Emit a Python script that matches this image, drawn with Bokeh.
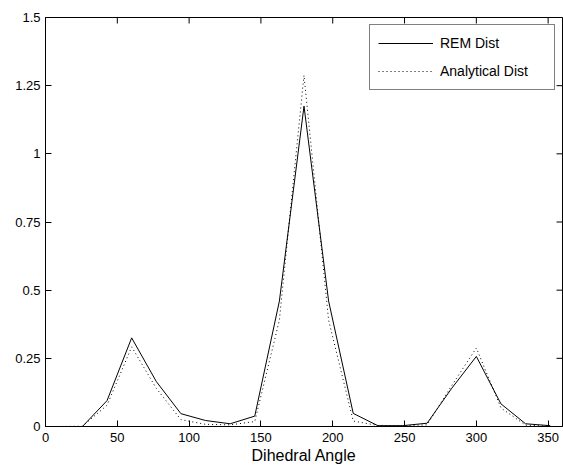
import math
from bokeh.plotting import figure
from bokeh.models import Range1d, FixedTicker, Legend, LegendItem
from bokeh.embed import file_html
from bokeh.resources import INLINE

# Data (bin centres of 21 bins over 0..360 degrees)
angles = [8.57, 25.71, 42.86, 60.0, 77.14, 94.29, 111.43, 128.57, 145.71, 162.86,
          180.0, 197.14, 214.29, 231.43, 248.57, 265.71, 282.86, 300.0, 317.14,
          334.29, 351.43]
rem_dist = [0.0, 0.0, 0.095, 0.325, 0.165, 0.047, 0.022, 0.010, 0.038, 0.46,
            1.175, 0.46, 0.048, 0.003, 0.003, 0.012, 0.14, 0.257, 0.083, 0.010, 0.003]
analytical_dist = [0.0, 0.001, 0.078, 0.292, 0.14, 0.025, 0.008, 0.006, 0.018, 0.39,
                   1.288, 0.39, 0.020, 0.004, 0.003, 0.006, 0.15, 0.288, 0.068, 0.005, 0.001]

x_ticks = [0, 50, 100, 150, 200, 250, 300, 350]
y_ticks = [0, 0.25, 0.5, 0.75, 1, 1.25, 1.5]
y_tick_labels = {0: "0", 0.25: "0.25", 0.5: "0.5", 0.75: "0.75", 1: "1", 1.25: "1.25", 1.5: "1.5"}

X_MIN, X_MAX = 0, 360
Y_MIN, Y_MAX = 0, 1.5

FONT = "Liberation Sans"

p = figure(width=563, height=466, output_backend="svg", toolbar_location=None,
           x_range=Range1d(X_MIN, X_MAX), y_range=Range1d(Y_MIN, Y_MAX),
           min_border_left=45, min_border_right=1, min_border_top=17, min_border_bottom=39)
p.grid.visible = False
p.outline_line_color = "black"
p.outline_line_width = 1
p.background_fill_color = "white"
p.border_fill_color = "white"

r1 = p.line(angles, rem_dist, line_color="black", line_width=1)
r2 = p.line(angles, analytical_dist, line_color="black", line_width=1, line_dash="1 3")

xa = p.xaxis[0]
ya = p.yaxis[0]
xa.ticker = FixedTicker(ticks=x_ticks)
ya.ticker = FixedTicker(ticks=y_ticks)
ya.major_label_overrides = y_tick_labels
for ax in (xa, ya):
    ax.axis_line_color = "black"
    ax.major_tick_line_color = "black"
    ax.major_tick_in = 6
    ax.major_tick_out = 0
    ax.minor_tick_line_color = None
    ax.major_label_text_font = FONT
    ax.major_label_text_font_size = "13px"
    ax.major_label_text_color = "black"
xa.major_label_standoff = 6
ya.major_label_standoff = 5
xa.axis_label = "Dihedral Angle"
xa.axis_label_text_font = FONT
xa.axis_label_text_font_style = "normal"
xa.axis_label_text_font_size = "16px"
xa.axis_label_text_color = "black"
xa.axis_label_standoff = 2

# Inward ticks on the top and right edges of the box (clipped to the frame)
p.scatter(x=x_ticks, y=[Y_MAX] * len(x_ticks), marker="dash", angle=math.pi / 2,
          size=12, line_color="black", line_width=1)
p.scatter(x=[X_MAX] * len(y_ticks), y=y_ticks, marker="dash",
          size=12, line_color="black", line_width=1)

legend = Legend(items=[LegendItem(label="REM Dist", renderers=[r1]),
                       LegendItem(label="Analytical Dist", renderers=[r2])],
                location="top_right")
legend.margin = 7
legend.padding = 8
legend.spacing = 8
legend.glyph_width = 55
legend.glyph_height = 20
legend.label_height = 20
legend.label_width = 106
legend.label_standoff = 7
legend.label_text_font = FONT
legend.label_text_font_size = "14px"
legend.label_text_color = "black"
legend.border_line_color = "black"
legend.border_line_width = 1
legend.background_fill_color = "white"
legend.background_fill_alpha = 1
p.add_layout(legend, "center")

open("out.html", "w").write(file_html(p, INLINE))
